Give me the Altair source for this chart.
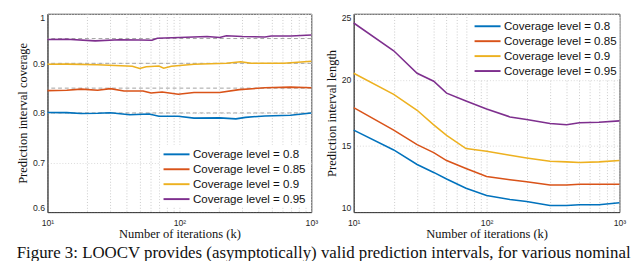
import altair as alt
import pandas as pd

series = ["Coverage level = 0.8", "Coverage level = 0.85", "Coverage level = 0.9", "Coverage level = 0.95"]
colors = ["#0072BD", "#D95319", "#EDB120", "#7E2F8E"]
nominal = [0.8, 0.85, 0.9, 0.95]

# Left panel: coverage
cov_k_blue = [10, 14, 18, 24, 30, 42, 59, 70, 98, 129, 202, 268, 317, 445, 694, 1000]
cov_blue = [0.801, 0.8006, 0.799, 0.7995, 0.8005, 0.7965, 0.798, 0.7935, 0.7935, 0.7895, 0.790, 0.788, 0.791, 0.794, 0.7955, 0.800]
cov_k_red = [10, 14, 18, 24, 30, 38, 53, 61, 74, 98, 129, 202, 284, 445, 694, 1000]
cov_red = [0.845, 0.8457, 0.848, 0.8457, 0.849, 0.8444, 0.8444, 0.840, 0.842, 0.8375, 0.841, 0.841, 0.847, 0.8507, 0.852, 0.8507]
cov_k_yellow = [10, 14, 24, 36, 44, 50, 56, 70, 76, 87, 129, 227, 292, 350, 620, 1000]
cov_yellow = [0.898, 0.8984, 0.897, 0.895, 0.894, 0.8895, 0.893, 0.8945, 0.890, 0.894, 0.898, 0.900, 0.903, 0.900, 0.900, 0.904]
cov_k_purple = [10, 14, 23, 35, 50, 62, 68, 100, 162, 202, 227, 300, 445, 496, 700, 1000]
cov_purple = [0.948, 0.9486, 0.9453, 0.9475, 0.947, 0.9466, 0.9505, 0.952, 0.954, 0.952, 0.9556, 0.954, 0.953, 0.955, 0.955, 0.957]

# Right panel: interval length
len_k = [10, 20, 30, 40, 50, 70, 100, 150, 200, 300, 400, 500, 700, 1000]
len_blue = [16.2, 14.7, 13.6, 13.0, 12.5, 11.8, 11.25, 10.95, 10.8, 10.5, 10.5, 10.55, 10.55, 10.7]
len_red = [17.9, 16.2, 15.1, 14.5, 13.9, 13.3, 12.7, 12.45, 12.3, 12.05, 12.05, 12.1, 12.1, 12.1]
len_yellow = [20.5, 18.9, 17.7, 16.6, 15.8, 14.8, 14.6, 14.3, 14.1, 13.85, 13.8, 13.75, 13.8, 13.9]
len_purple = [24.3, 22.2, 20.5, 19.9, 19.0, 18.4, 17.8, 17.2, 17.0, 16.7, 16.6, 16.75, 16.8, 16.9]

x_ticks = [10, 20, 30, 40, 50, 60, 70, 80, 90, 100, 200, 300, 400, 500, 600, 700, 800, 900, 1000]
cov_ticks = [0.6, 0.65, 0.7, 0.75, 0.8, 0.85, 0.9, 0.95, 1.0]
len_ticks = [10, 15, 20, 25]

caption = "Figure 3: LOOCV provides (asymptotically) valid prediction intervals, for various nominal"

rows = []
for s, ks, vs in zip(series, [cov_k_blue, cov_k_red, cov_k_yellow, cov_k_purple],
                     [cov_blue, cov_red, cov_yellow, cov_purple]):
    for k, v in zip(ks, vs):
        rows.append({"k": k, "v": v, "series": s})
cov_df = pd.DataFrame(rows)

rows = []
for s, vs in zip(series, [len_blue, len_red, len_yellow, len_purple]):
    for k, v in zip(len_k, vs):
        rows.append({"k": k, "v": v, "series": s})
len_df = pd.DataFrame(rows)

nom_df = pd.DataFrame({"y": nominal})

TICK_FONT = "Liberation Sans"
TITLE_FONT = "Liberation Serif"
AX = "#404040"

label_expr = "datum.value==10?'10¹':datum.value==100?'10²':datum.value==1000?'10³':''"

def x_enc():
    return alt.X("k:Q",
                 scale=alt.Scale(type="log", domain=[10, 1000], nice=False),
                 axis=alt.Axis(values=x_ticks, labelExpr=label_expr, title="Number of iterations (k)",
                               grid=True, gridDash=[1, 2], gridColor="#c8c8c8", ticks=False,
                               labelPadding=7, titlePadding=0, labelFlush=False))

def legend(x, y):
    return alt.Legend(title=None, orient="none", legendX=x, legendY=y, symbolType="M-2,0H2",
                      symbolSize=182, symbolStrokeWidth=2, labelFont=TICK_FONT, labelFontSize=12,
                      labelColor="#111", fillColor="white", padding=2, rowPadding=1.5,
                      symbolOffset=7, labelOffset=9)

cov_scale = alt.Scale(domain=[0.6, 1.0], nice=False, zero=False)

# Left chart
left_lines = alt.Chart(cov_df).mark_line(strokeWidth=1.6).encode(
    x=x_enc(),
    y=alt.Y("v:Q", scale=cov_scale,
            axis=alt.Axis(values=cov_ticks, format="~g", title="Prediction interval coverage",
                          grid=True, gridDash=[1, 2], gridColor="#d8d8d8", ticks=False,
                          labelPadding=3, titlePadding=3, labelFlush=True)),
    color=alt.Color("series:N", scale=alt.Scale(domain=series, range=colors), legend=legend(117, 136)),
    order=alt.Order("k:Q"),
)
left_rules = alt.Chart(nom_df).mark_rule(color="#a0a0a0", strokeDash=[4, 3], strokeWidth=1).encode(
    y=alt.Y("y:Q", scale=cov_scale)
)
left = alt.layer(left_rules, left_lines).properties(width=274, height=206)

# Right chart
right_lines = alt.Chart(len_df).mark_line(strokeWidth=1.6).encode(
    x=x_enc(),
    y=alt.Y("v:Q", scale=alt.Scale(domain=[10, 25], nice=False, zero=False),
            axis=alt.Axis(values=len_ticks, title="Prediction interval length",
                          grid=True, gridDash=[1, 2], gridColor="#d8d8d8", ticks=False,
                          labelPadding=3, titlePadding=3, labelFlush=True)),
    color=alt.Color("series:N", scale=alt.Scale(domain=series, range=colors), legend=legend(122, 3)),
    order=alt.Order("k:Q"),
).properties(width=276, height=206)

chart = alt.hconcat(left, right_lines, spacing=6).resolve_scale(color="independent").properties(
    title=alt.TitleParams(caption, orient="bottom", anchor="start", font=TITLE_FONT, fontSize=17.5,
                          fontWeight="normal", color="#111", offset=4)
).configure(padding={"left": 8, "top": 0, "right": 0, "bottom": 0}).configure_view(
    stroke=AX, strokeWidth=1
).configure_axis(
    labelFont=TICK_FONT, labelFontSize=9, labelColor="#262626",
    titleFont=TITLE_FONT, titleFontSize=13, titleFontWeight="normal", titleColor="#111",
    domainColor=AX,
)

chart.save("out.html", embed_options={"renderer": "svg", "actions": False})
